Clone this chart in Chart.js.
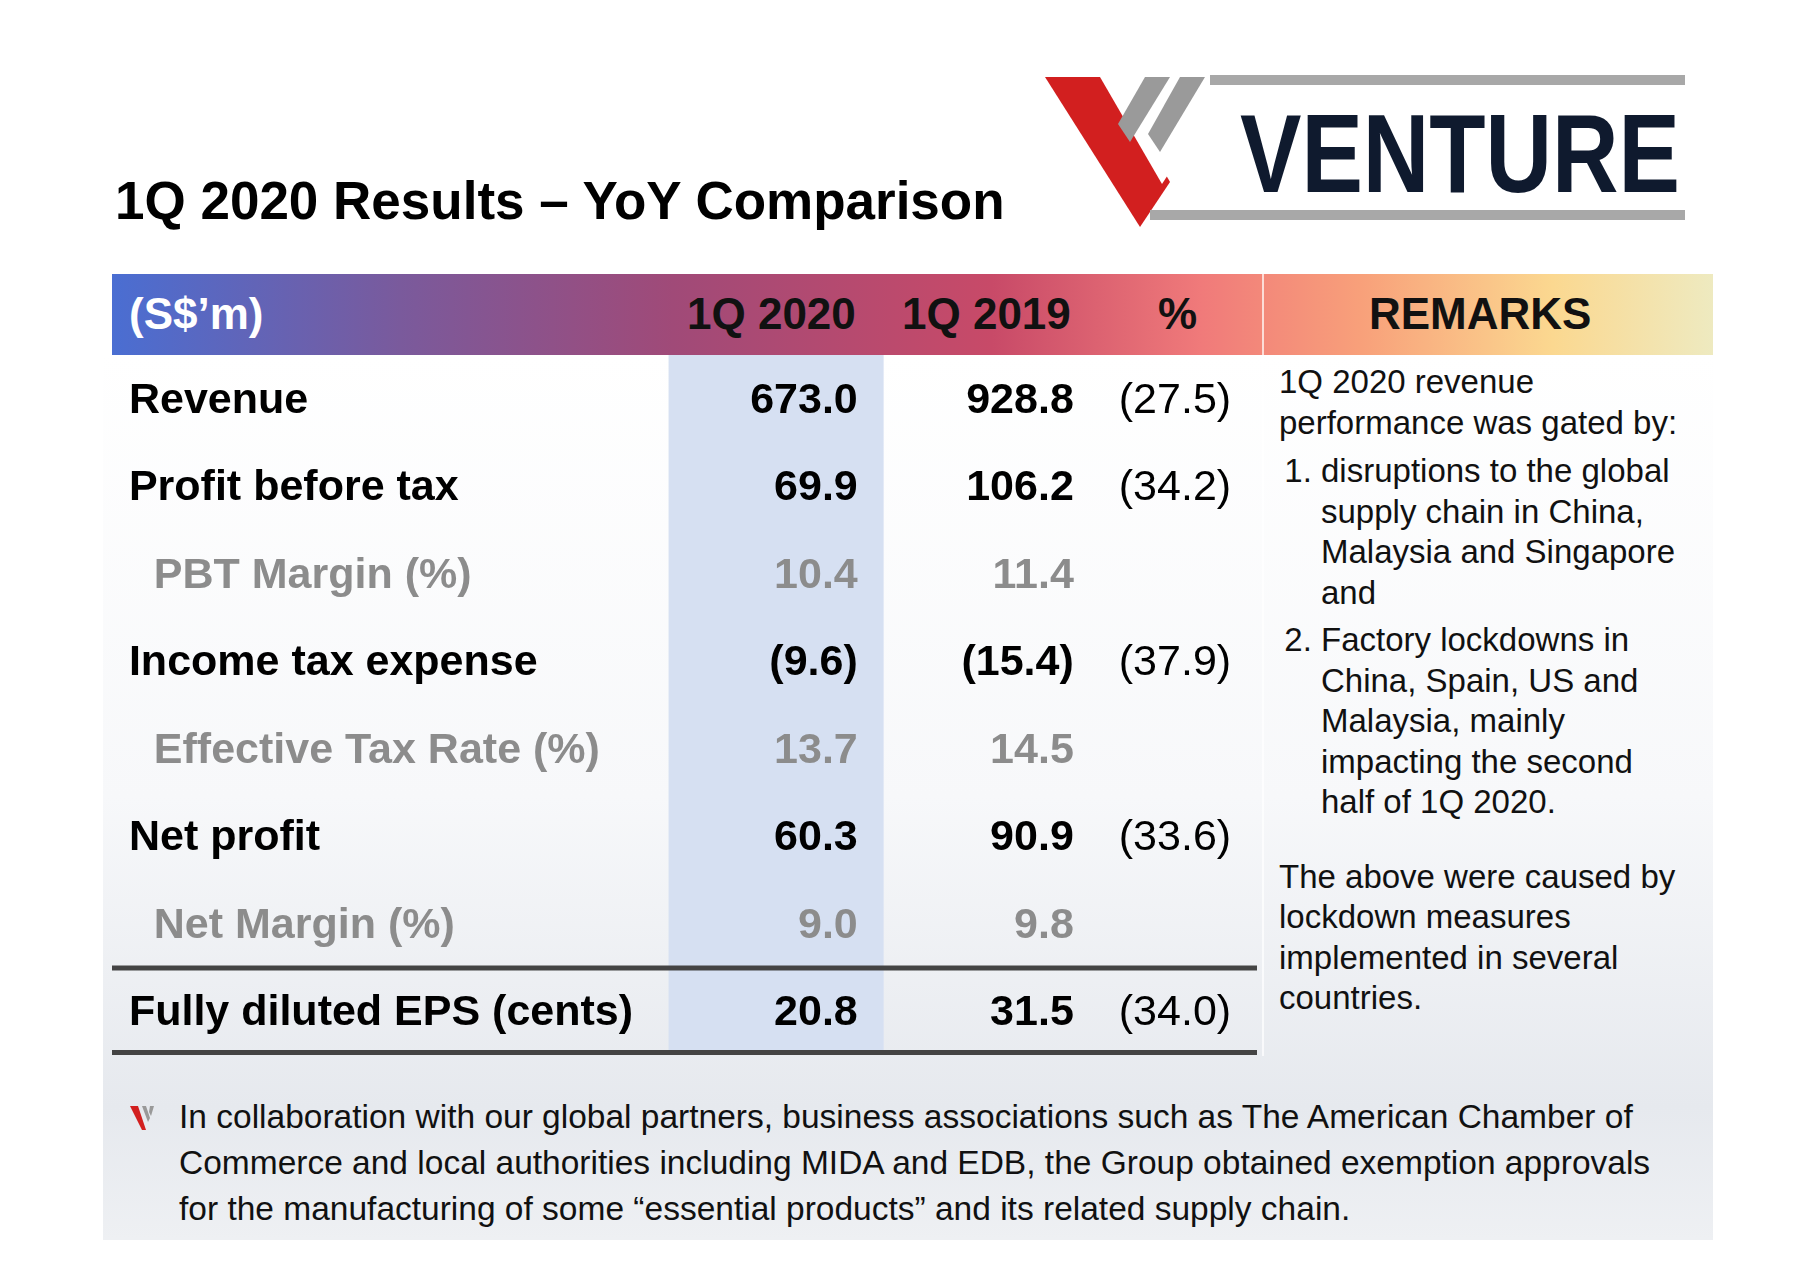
<!DOCTYPE html>
<html>
<head>
<meta charset="utf-8">
<script src="https://cdn.jsdelivr.net/npm/chart.js@4.4.1/dist/chart.umd.min.js"></script>
<style>
body { margin: 0; background: #fff; font-family: "Liberation Sans", Arial, sans-serif; }
#page { position: relative; width: 1801px; height: 1278px; overflow: hidden; }
#title { position: absolute; left: 115px; top: 170px; font-size: 53px; font-weight: bold; color: #000; }
#bg { position: absolute; left: 103px; top: 355px; width: 1610px; height: 885px;
  background: linear-gradient(180deg, #ffffff 0%, #f7f8fa 50%, #e6e9ee 85%, #eef0f3 100%); }
#head { position: absolute; left: 112px; top: 274px; width: 1601px; height: 81px;
  background: linear-gradient(90deg, #4a6ed2 0%, #7a5a9c 18%, #a04a78 35%, #c84a68 55%, #f07a7a 68%, #f8a07a 78%, #fbd890 90%, #eeeac0 100%); }
#head span { position: absolute; top: 15px; font-size: 44px; font-weight: bold; color: #111; }
#vsep { position: absolute; left: 1262px; top: 274px; width: 2px; height: 782px; background: #fff; opacity: 0.7; }
#remarks { position: absolute; left: 1279px; top: 362px; width: 410px; font-size: 33px; line-height: 40.5px; color: #111; }
#remarks ol { margin: 8px 0 34px 0; padding-left: 42px; }
#remarks li { margin-bottom: 7px; }
#note { position: absolute; left: 179px; top: 1094px; width: 1480px; font-size: 33.5px; line-height: 46px; color: #111; }
#table { position: absolute; left: 112px; top: 355px; }
</style>
</head>
<body>
<div id="page">
  <div id="bg"></div>
  <div id="title">1Q 2020 Results – YoY Comparison</div>
  <svg style="position:absolute;left:1040px;top:72px" width="650" height="160" viewBox="0 0 650 160">
    <polygon points="5,5 70,5 130,110 100,155" fill="#d21f1f"/>
    <polygon points="60,5 85,5 135,92 122,112" fill="#fff"/>
    <polygon points="105,5 130,5 90,70 78,52" fill="#9a9a9a"/>
    <polygon points="140,5 165,5 120,80 108,62" fill="#9a9a9a"/>
    <rect x="170" y="3" width="475" height="10" fill="#a8a8a8"/>
    <rect x="110" y="138" width="535" height="10" fill="#a8a8a8"/>
    <text x="200" y="120" font-family="Liberation Sans, Arial" font-weight="bold" font-size="112" fill="#0f1a2e" textLength="440" lengthAdjust="spacingAndGlyphs">VENTURE</text>
  </svg>
  <div id="head">
    <span style="left:17px;color:#fff">(S$’m)</span>
    <span style="left:575px">1Q 2020</span>
    <span style="left:790px">1Q 2019</span>
    <span style="left:1046px">%</span>
    <span style="left:1257px">REMARKS</span>
  </div>
  <canvas id="table" width="1145" height="700"></canvas>
  <div id="vsep"></div>
  <div id="remarks">
    1Q 2020 revenue performance was gated by:
    <ol>
      <li>disruptions to the global supply chain in China, Malaysia and Singapore and</li>
      <li>Factory lockdowns in China, Spain, US and Malaysia, mainly impacting the second half of 1Q 2020.</li>
    </ol>
    The above were caused by lockdown measures implemented in several countries.
  </div>
  <svg style="position:absolute;left:130px;top:1104px" width="30" height="28" viewBox="0 0 30 28">
    <polygon points="0,2 8,2 16,26 12,26" fill="#d21f1f"/>
    <polygon points="12,2 16,2 20,14 18,18" fill="#999"/>
    <polygon points="20,2 24,2 21,12 19,8" fill="#999"/>
  </svg>
  <div id="note">In collaboration with our global partners, business associations such as The American Chamber of Commerce and local authorities including MIDA and EDB, the Group obtained exemption approvals for the manufacturing of some “essential products” and its related supply chain.</div>
</div>
<script>
var rowLabels = ["Revenue", "Profit before tax", "PBT Margin (%)", "Income tax expense",
  "Effective Tax Rate (%)", "Net profit", "Net Margin (%)", "Fully diluted EPS (cents)"];
var minorRows = [false, false, true, false, true, false, true, false];
var q2020 = ["673.0", "69.9", "10.4", "(9.6)", "13.7", "60.3", "9.0", "20.8"];
var q2019 = ["928.8", "106.2", "11.4", "(15.4)", "14.5", "90.9", "9.8", "31.5"];
var pct = ["(27.5)", "(34.2)", "", "(37.9)", "", "(33.6)", "", "(34.0)"];

var tablePlugin = {
  id: "tableCells",
  beforeDatasetsDraw: function(chart) {
    var ctx = chart.ctx, x = chart.scales.x;
    ctx.save();
    ctx.fillStyle = "#d6e0f2";
    ctx.fillRect(x.getPixelForValue(559), 0, x.getPixelForValue(775) - x.getPixelForValue(559), chart.height - 4);
    ctx.restore();
  },
  afterDatasetsDraw: function(chart) {
    var ctx = chart.ctx, x = chart.scales.x, y = chart.scales.y;
    ctx.save();
    ctx.textBaseline = "middle";
    for (var i = 0; i < rowLabels.length; i++) {
      var py = y.getPixelForValue(i) + 2;
      ctx.fillStyle = minorRows[i] ? "#8c8c8c" : "#000";
      ctx.font = "bold 43px 'Liberation Sans', Arial";
      ctx.textAlign = "left";
      ctx.fillText(rowLabels[i], x.getPixelForValue(minorRows[i] ? 42 : 17), py);
      ctx.textAlign = "right";
      ctx.fillText(q2020[i], x.getPixelForValue(749), py);
      ctx.fillText(q2019[i], x.getPixelForValue(966), py);
      ctx.font = "43px 'Liberation Sans', Arial";
      ctx.fillText(pct[i], x.getPixelForValue(1124), py);
    }
    ctx.fillStyle = "#444";
    var sep = (y.getPixelForValue(6) + y.getPixelForValue(7)) / 2;
    ctx.fillRect(0, sep - 2, chart.width, 5);
    ctx.fillRect(0, chart.height - 5, chart.width, 5);
    ctx.restore();
  }
};

new Chart(document.getElementById("table"), {
  type: "scatter",
  data: { labels: rowLabels, datasets: [] },
  options: {
    responsive: false,
    animation: false,
    layout: { padding: 0 },
    plugins: { legend: { display: false }, tooltip: { enabled: false } },
    scales: {
      x: { type: "linear", min: 0, max: 1150, display: false },
      y: { type: "category", labels: rowLabels, offset: true, display: false }
    }
  },
  plugins: [tablePlugin]
});
</script>
</body>
</html>
